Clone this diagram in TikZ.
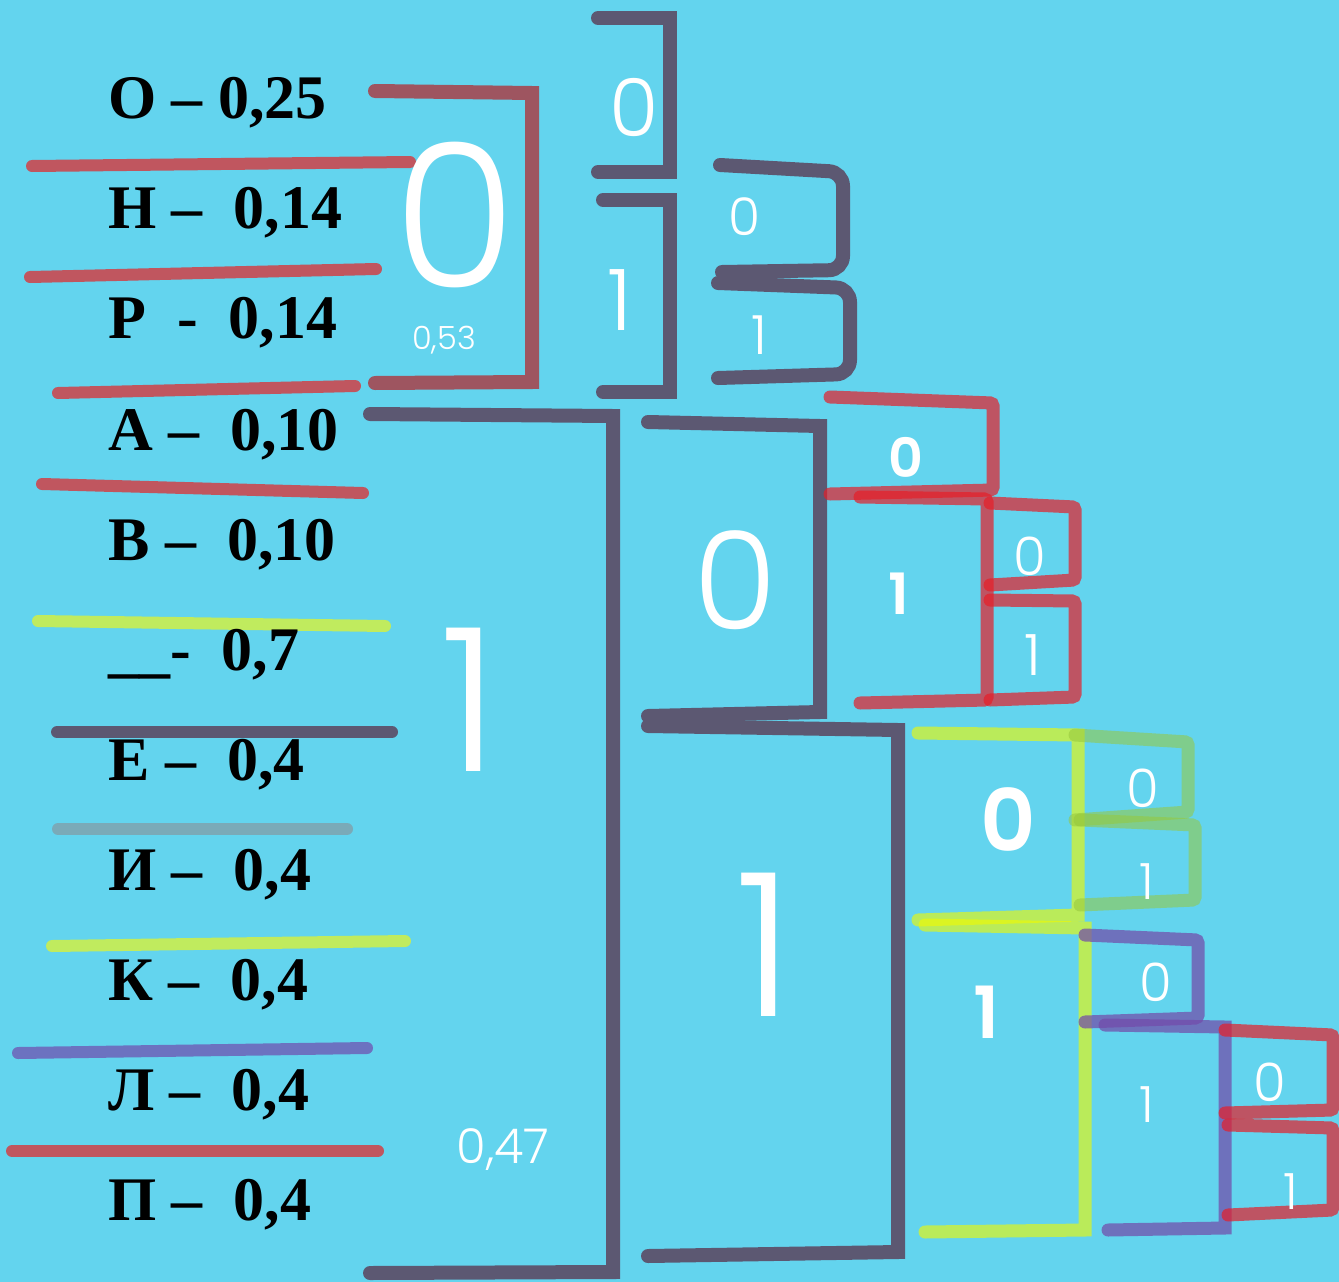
\documentclass[tikz,border=0pt]{standalone}
\usepackage{fontspec}
\newfontfamily\labfont{Liberation Serif}
\newfontfamily\thinfont{Poppins Light}
\newfontfamily\boldfont{Poppins SemiBold}
\definecolor{bgc}{RGB}{99,212,238}
\definecolor{darkc}{RGB}{92,88,114}
\definecolor{sepred}{RGB}{192,86,95}
\definecolor{brownc}{RGB}{158,85,96}
\definecolor{redc}{RGB}{230,30,40}
\definecolor{yelc}{RGB}{240,250,0}
\definecolor{sepyel}{RGB}{192,235,94}
\definecolor{greenc}{RGB}{150,200,60}
\definecolor{purc}{RGB}{115,75,170}
\definecolor{seppur}{RGB}{108,114,192}
\definecolor{greyc}{RGB}{122,170,184}
\begin{document}
\begin{tikzpicture}[x=1pt,y=-1pt,
  sep/.style={line width=12pt,line cap=round},
  brk/.style={line width=14pt,line cap=round,line join=miter,rounded corners=3pt},
  dk/.style={brk,draw=darkc,rounded corners=0pt},
  rd/.style={brk,line width=13pt,draw=redc,draw opacity=0.7},
  yl/.style={brk,line width=13pt,draw=yelc,draw opacity=0.62,rounded corners=0pt},
  gr/.style={brk,line width=13pt,draw=greenc,draw opacity=0.55},
  pu/.style={brk,line width=13pt,draw=purc,draw opacity=0.72},
  lab/.style={anchor=base west,inner sep=0pt,font=\labfont\bfseries\fontsize{62}{70}\selectfont},
  tn/.style={inner sep=0pt,text=white,font=\thinfont\fontsize{#1}{#1}\selectfont},
  bn/.style={inner sep=0pt,text=white,font=\boldfont\fontsize{#1}{#1}\selectfont}]
\fill[bgc] (0,0) rectangle (1339,1282);
\useasboundingbox (0,0) rectangle (1339,1282);

% separators
\draw[sep,sepred] (32,166) -- (410,162);
\draw[sep,sepred] (30,277) -- (376,269);
\draw[sep,sepred] (58,393) -- (355,386);
\draw[sep,sepred] (42,484) -- (363,493);
\draw[sep,sepyel] (38,621) -- (385,626);
\draw[sep,darkc] (57,732) -- (392,732);
\draw[sep,greyc] (58,829) -- (347,829);
\draw[sep,sepyel] (52,946) -- (405,941);
\draw[sep,seppur] (18,1053) -- (367,1048);
\draw[sep,sepred] (12,1151) -- (378,1151);

% labels
\node[lab] (l1) at (108,118) {О – 0,25};
\node[lab] (l2) at (108,228) {Н –~~0,14};
\node[lab] (l3) at (108,338) {Р~~-~~0,14};
\node[lab] (l4) at (108,450) {А –~~0,10};
\node[lab] (l5) at (108,560) {В –~~0,10};
\node[lab] (l6) at (108,670) {\_\_-~~0,7};
\node[lab] (l7) at (108,780) {Е –~~0,4};
\node[lab] (l8) at (108,890) {И –~~0,4};
\node[lab] (l9) at (108,1000) {К –~~0,4};
\node[lab] (l10) at (108,1110) {Л –~~0,4};
\node[lab] (l11) at (108,1220) {П –~~0,4};

% first level
\draw[brk,draw=brownc,rounded corners=0pt] (375,91) -- (532,93) -- (532,382) -- (375,383);
\draw[dk] (370,414) -- (613,416) -- (613,1272) -- (370,1273);
% second level
\draw[dk] (598,18) -- (670,18) -- (670,172) -- (598,172);
\draw[dk] (603,200) -- (670,200) -- (670,392) -- (603,392);
\draw[dk] (648,422) -- (820,426) -- (820,712) -- (648,716);
\draw[dk] (648,726) -- (898,730) -- (898,1252) -- (648,1256);
% third level (top)
\draw[dk,rounded corners=14pt] (720,165) -- (843,172) -- (843,270) -- (722,272);
\draw[dk,rounded corners=14pt] (718,283) -- (850,288) -- (850,374) -- (718,378);
% red tree
\draw[rd] (830,397) -- (993,403) -- (993,490) -- (830,494);
\draw[rd] (860,497) -- (987,499) -- (987,700) -- (860,703);
\draw[rd] (990,503) -- (1075,507) -- (1075,580) -- (990,585);
\draw[rd] (990,600) -- (1075,601) -- (1075,697) -- (990,700);
% yellow tree
\draw[yl] (918,733) -- (1078,735) -- (1078,915) -- (918,920);
\draw[yl] (925,925) -- (1085,928) -- (1085,1230) -- (925,1232);
\draw[gr] (1075,735) -- (1188,742) -- (1188,812) -- (1075,820);
\draw[gr] (1080,820) -- (1195,825) -- (1195,900) -- (1080,905);
\draw[pu] (1085,935) -- (1198,940) -- (1198,1018) -- (1085,1022);
\draw[pu,rounded corners=0pt] (1105,1025) -- (1225,1027) -- (1225,1228) -- (1108,1230);
\draw[rd] (1225,1030) -- (1333,1035) -- (1333,1110) -- (1225,1113);
\draw[rd] (1228,1125) -- (1333,1128) -- (1333,1210) -- (1228,1215);

% white digits
\node[tn=200] (n0) at (455,215) {0};
\node[tn=32] (p53) at (444,340) {0,53};
\node[tn=200] (n1) at (470,700) {1};
\node[tn=48] (p47) at (503,1150) {0,47};
\node[tn=80] (n00) at (634,107) {0};
\node[tn=85] (n01) at (620,300) {1};
\node[tn=52] (n010) at (745,217) {0};
\node[tn=54] (n011) at (759,335) {1};
\node[tn=136] (n10) at (735,580) {0};
\node[tn=200] (n11) at (765,945) {1};
\node[bn=54] (n100) at (906,457) {0};
\node[bn=57] (n101) at (899,594) {1};
\node[tn=53] (n1010) at (1030,556) {0};
\node[tn=57] (n1011) at (1033,655) {1};
\node[bn=86] (n110) at (1008,820) {0};
\node[bn=72] (n111) at (987,1012) {1};
\node[tn=53] (n1100) at (1143,788) {0};
\node[tn=50] (n1101) at (1147,882) {1};
\node[tn=53] (n1110) at (1156,982) {0};
\node[tn=50] (n1111) at (1147,1105) {1};
\node[tn=53] (n11110) at (1270,1082) {0};
\node[tn=50] (n11111) at (1291,1192) {1};
\end{tikzpicture}
\end{document}
